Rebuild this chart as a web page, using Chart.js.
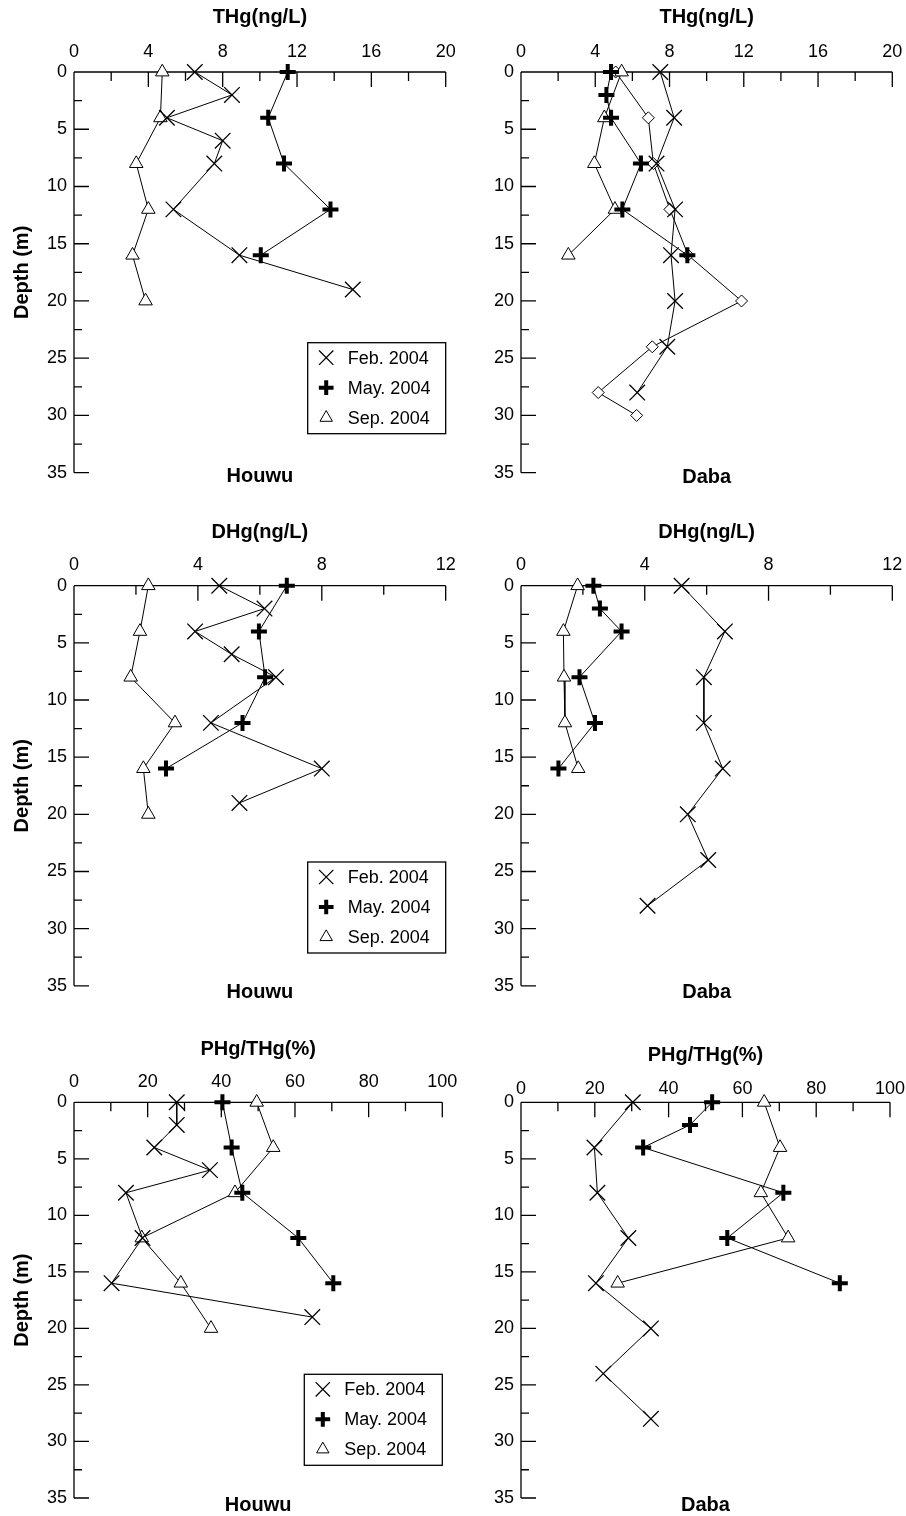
<!DOCTYPE html>
<html>
<head>
<meta charset="utf-8">
<title>Hg depth profiles - Houwu and Daba</title>
<script src="https://cdn.jsdelivr.net/npm/chart.js@4/dist/chart.umd.min.js"></script>
<style>
  html, body { margin: 0; padding: 0; background: #fff; }
  #page { position: relative; width: 906px; height: 1516px; overflow: hidden; }
  #page canvas { position: absolute; }
</style>
</head>
<body>
<div id="page"></div>
<script>
// sampling depths (m)
const houwuDepthFeb = [0, 2, 4, 6, 8, 12, 16, 19];
const houwuDepthMay = [0, 4, 8, 12, 16];
const houwuDepthSep = [0, 4, 8, 12, 16, 20];
const dabaDepthFeb = [0, 4, 8, 12, 16, 20, 24, 28];
const dabaDepthMay = [0, 2, 4, 8, 12, 16];
const dabaDepthSep = [0, 4, 8, 12, 16];
const dabaDepthExtra = [0, 4, 8, 12, 16, 20, 24, 28, 30];

// THg (ng/L)
const houwuThgFeb = [6.5, 8.5, 5.0, 8.0, 7.55, 5.35, 8.9, 15.0];
const houwuThgMay = [11.5, 10.45, 11.3, 13.8, 10.05];
const houwuThgSep = [4.75, 4.65, 3.35, 4.0, 3.15, 3.85];
const dabaThgFeb = [7.5, 8.25, 7.3, 8.3, 8.08, 8.3, 7.88, 6.26];
const dabaThgMay = [4.85, 4.6, 4.85, 6.46, 5.46, 8.96];
const dabaThgSep = [5.42, 4.49, 3.95, 5.06, 2.55];
const dabaThgExtra = [5.1, 6.86, 7.13, 8.02, 9.0, 11.88, 7.07, 4.16, 6.23];

// DHg (ng/L)
const houwuDhgFeb = [4.69, 6.15, 3.91, 5.09, 6.52, 4.42, 8.0, 5.34];
const houwuDhgMay = [6.87, 5.97, 6.17, 5.44, 2.97];
const houwuDhgSep = [2.4, 2.13, 1.83, 3.26, 2.24, 2.4];
const dabaDhgFeb = [5.19, 6.59, 5.91, 5.91, 6.52, 5.39, 6.05, 4.09];
const dabaDhgMay = [2.34, 2.55, 3.25, 1.89, 2.39, 1.21];
const dabaDhgSep = [1.83, 1.37, 1.39, 1.42, 1.85];

// PHg/THg (%)
const houwuPhgFeb = [27.9, 27.9, 21.8, 36.9, 14.1, 18.6, 10.2, 64.7];
const houwuPhgMay = [40.3, 42.8, 45.7, 60.9, 70.4];
const houwuPhgSep = [49.6, 54.1, 43.7, 18.4, 29.0, 37.2];
const dabaPhgFeb = [30.3, 19.9, 20.7, 29.1, 20.3, 35.2, 22.3, 35.2];
const dabaPhgMay = [51.8, 45.8, 33.1, 71.1, 55.9, 86.4];
const dabaPhgSep = [65.9, 70.2, 65.0, 72.4, 26.2];

const seriesLabels = ['Feb. 2004', 'May. 2004', 'Sep. 2004'];
const siteNames = ['Houwu', 'Daba'];
const axisTitles = ['THg(ng/L)', 'DHg(ng/L)', 'PHg/THg(%)'];
const depthTitle = 'Depth (m)';
// [min, max, step, labelled every]
const thgAxis = [0, 20, 2, 4];
const dhgAxis = [0, 12, 2, 4];
const phgAxis = [0, 100, 10, 20];
const depthAxis = [0, 35, 2.5, 5];

const FONT = '"Liberation Sans", Arial, Helvetica, sans-serif';

const marks = {
    feb: { style: 'crossRot', radius: 11, width: 1.3 },
    may: { style: 'cross', radius: 8, width: 4 },
    sep: { style: 'triangle', radius: 7.8, width: 1 },
    extra: { style: 'rectRot', radius: 6, width: 1, legend: false },
};

function profile(label, depths, values, mark) {
    return {
        label,
        data: depths.map((d, i) => ({ x: values[i], y: d })),
        showLine: true,
        borderColor: '#000',
        borderWidth: 1,
        tension: 0,
        clip: false,
        pointStyle: mark.style,
        pointRadius: mark.radius,
        pointBorderWidth: mark.width,
        pointBorderColor: '#000',
        pointBackgroundColor: '#fff',
        inLegend: mark.legend !== false,
    };
}

// scales keep no extra room for overhanging labels, so the plot area stays where it is set
function noLabelPadding(s) {
    s.paddingLeft = 0;
    s.paddingRight = 0;
    s.paddingTop = 0;
    s.paddingBottom = 0;
}

// axis lines with inward ticks, site name and boxed legend
const panelDecor = {
    id: 'panelDecor',
    beforeDatasetsDraw(chart, args, opts) {
        const { ctx, chartArea: a, scales: { x, y } } = chart;
        ctx.save();
        ctx.strokeStyle = '#000';
        ctx.lineWidth = 1.3;
        ctx.beginPath();
        ctx.moveTo(a.left, a.top);
        ctx.lineTo(a.right, a.top);
        ctx.moveTo(a.left, a.top);
        ctx.lineTo(a.left, a.bottom);
        x.ticks.forEach(t => {
            const px = x.getPixelForValue(t.value);
            const len = t.value % opts.xMajor === 0 ? 15 : 9;
            ctx.moveTo(px, a.top);
            ctx.lineTo(px, a.top + len);
        });
        y.ticks.forEach(t => {
            const py = y.getPixelForValue(t.value);
            const len = t.value % opts.yMajor === 0 ? 15 : 8;
            ctx.moveTo(a.left, py);
            ctx.lineTo(a.left + len, py);
        });
        ctx.stroke();
        ctx.restore();
    },
    afterDraw(chart, args, opts) {
        const { ctx, chartArea: a } = chart;
        ctx.save();
        ctx.fillStyle = '#000';
        ctx.font = 'bold 20px ' + FONT;
        ctx.textAlign = 'center';
        ctx.textBaseline = 'middle';
        ctx.fillText(opts.site, (a.left + a.right) / 2, opts.siteY);

        if (opts.legendTop) {
            const l = a.right - 138, t = opts.legendTop, w = 138, h = 91;
            ctx.strokeStyle = '#000';
            ctx.lineWidth = 1.3;
            ctx.strokeRect(l, t, w, h);
            const items = chart.data.datasets.filter(ds => ds.inLegend);
            items.forEach((ds, i) => {
                const cy = t + 15 + i * 30;
                ctx.fillStyle = '#fff';
                ctx.strokeStyle = '#000';
                ctx.lineWidth = ds.pointBorderWidth;
                Chart.helpers.drawPoint(ctx, {
                    pointStyle: ds.pointStyle,
                    radius: ds.pointRadius * 0.92,
                    borderWidth: ds.pointBorderWidth,
                    rotation: 0,
                }, l + 18.5, cy);
                ctx.fillStyle = '#000';
                ctx.font = '18px ' + FONT;
                ctx.textAlign = 'left';
                ctx.textBaseline = 'middle';
                ctx.fillText(ds.label, l + 40, cy + 1);
            });
        }
        ctx.restore();
    },
};

function makePanel(p) {
    const canvas = document.createElement('canvas');
    canvas.width = p.w;
    canvas.height = p.h;
    canvas.style.left = p.left + 'px';
    canvas.style.top = p.top + 'px';
    canvas.style.width = p.w + 'px';
    canvas.style.height = p.h + 'px';
    document.getElementById('page').appendChild(canvas);

    const [xMin, xMax, xStep, xMajor] = p.xAxis;
    const [yMin, yMax, yStep, yMajor] = depthAxis;

    return new Chart(canvas, {
        type: 'scatter',
        data: { datasets: p.datasets },
        options: {
            responsive: false,
            animation: false,
            devicePixelRatio: 1,
            events: [],
            layout: {
                autoPadding: false,
                padding: { left: 0, top: 0, right: p.w - p.area.right, bottom: p.h - p.area.bottom },
            },
            plugins: {
                legend: { display: false },
                tooltip: { enabled: false },
                panelDecor: {
                    xMajor,
                    yMajor,
                    site: p.site,
                    siteY: p.siteY,
                    legendTop: p.legendTop || 0,
                },
            },
            scales: {
                x: {
                    type: 'linear',
                    position: 'top',
                    min: xMin,
                    max: xMax,
                    grid: { display: false, drawTicks: false },
                    border: { display: false },
                    ticks: {
                        stepSize: xStep,
                        autoSkip: false,
                        maxRotation: 0,
                        padding: p.tickPad,
                        color: '#000',
                        font: { family: FONT, size: 18 },
                        callback: v => (v % xMajor === 0 ? String(v) : ''),
                    },
                    title: {
                        display: true,
                        text: p.title,
                        color: '#000',
                        font: { family: FONT, size: 20, weight: 'bold' },
                        padding: { top: p.titlePad, bottom: 0 },
                    },
                    afterFit: s => {
                        s.height = p.area.top;
                        noLabelPadding(s);
                    },
                },
                y: {
                    type: 'linear',
                    position: 'left',
                    reverse: true,
                    min: yMin,
                    max: yMax,
                    grid: { display: false, drawTicks: false },
                    border: { display: false },
                    ticks: {
                        stepSize: yStep,
                        autoSkip: false,
                        padding: 7,
                        color: '#000',
                        font: { family: FONT, size: 18 },
                        callback: v => (v % yMajor === 0 ? String(v) : ''),
                    },
                    title: {
                        display: p.left === 0,
                        text: depthTitle,
                        color: '#000',
                        font: { family: FONT, size: 20, weight: 'bold' },
                        padding: { top: 10, bottom: 0 },
                    },
                    afterFit: s => {
                        s.width = p.area.left;
                        noLabelPadding(s);
                    },
                },
            },
        },
        plugins: [panelDecor],
    });
}

// left canvases run a little into the right column so their last x label is not cut off
const panels = [
    {
        left: 0, top: 0, w: 475, h: 510,
        area: { left: 74, top: 72, right: 445.7, bottom: 472.7 },
        title: axisTitles[0], xAxis: thgAxis, titlePad: 5, tickPad: 9,
        site: siteNames[0], siteY: 476, legendTop: 342.7,
        datasets: [
            profile(seriesLabels[0], houwuDepthFeb, houwuThgFeb, marks.feb),
            profile(seriesLabels[1], houwuDepthMay, houwuThgMay, marks.may),
            profile(seriesLabels[2], houwuDepthSep, houwuThgSep, marks.sep),
        ],
    },
    {
        left: 453, top: 0, w: 453, h: 510,
        area: { left: 68, top: 72, right: 439.3, bottom: 472.7 },
        title: axisTitles[0], xAxis: thgAxis, titlePad: 5, tickPad: 9,
        site: siteNames[1], siteY: 477,
        datasets: [
            profile(seriesLabels[0], dabaDepthFeb, dabaThgFeb, marks.feb),
            profile(seriesLabels[1], dabaDepthMay, dabaThgMay, marks.may),
            profile(seriesLabels[2], dabaDepthSep, dabaThgSep, marks.sep),
            profile('', dabaDepthExtra, dabaThgExtra, marks.extra),
        ],
    },
    {
        left: 0, top: 510, w: 475, h: 510,
        area: { left: 74, top: 75.7, right: 445.7, bottom: 475.8 },
        title: axisTitles[1], xAxis: dhgAxis, titlePad: 10, tickPad: 10,
        site: siteNames[0], siteY: 482, legendTop: 352,
        datasets: [
            profile(seriesLabels[0], houwuDepthFeb, houwuDhgFeb, marks.feb),
            profile(seriesLabels[1], houwuDepthMay, houwuDhgMay, marks.may),
            profile(seriesLabels[2], houwuDepthSep, houwuDhgSep, marks.sep),
        ],
    },
    {
        left: 453, top: 510, w: 453, h: 510,
        area: { left: 68, top: 75.7, right: 439.3, bottom: 475.8 },
        title: axisTitles[1], xAxis: dhgAxis, titlePad: 10, tickPad: 10,
        site: siteNames[1], siteY: 482,
        datasets: [
            profile(seriesLabels[0], dabaDepthFeb, dabaDhgFeb, marks.feb),
            profile(seriesLabels[1], dabaDepthMay, dabaDhgMay, marks.may),
            profile(seriesLabels[2], dabaDepthSep, dabaDhgSep, marks.sep),
        ],
    },
    {
        left: 0, top: 1020, w: 475, h: 496,
        area: { left: 74, top: 82.3, right: 442.3, bottom: 478 },
        title: axisTitles[2], xAxis: phgAxis, titlePad: 17, tickPad: 9.4,
        site: siteNames[0], siteY: 485, legendTop: 354.3,
        datasets: [
            profile(seriesLabels[0], houwuDepthFeb, houwuPhgFeb, marks.feb),
            profile(seriesLabels[1], houwuDepthMay, houwuPhgMay, marks.may),
            profile(seriesLabels[2], houwuDepthSep, houwuPhgSep, marks.sep),
        ],
    },
    {
        left: 453, top: 1020, w: 453, h: 496,
        area: { left: 68, top: 82.3, right: 437, bottom: 478 },
        title: axisTitles[2], xAxis: phgAxis, titlePad: 23, tickPad: 2.5,
        site: siteNames[1], siteY: 485,
        datasets: [
            profile(seriesLabels[0], dabaDepthFeb, dabaPhgFeb, marks.feb),
            profile(seriesLabels[1], dabaDepthMay, dabaPhgMay, marks.may),
            profile(seriesLabels[2], dabaDepthSep, dabaPhgSep, marks.sep),
        ],
    },
];

panels.forEach(makePanel);
</script>
</body>
</html>
